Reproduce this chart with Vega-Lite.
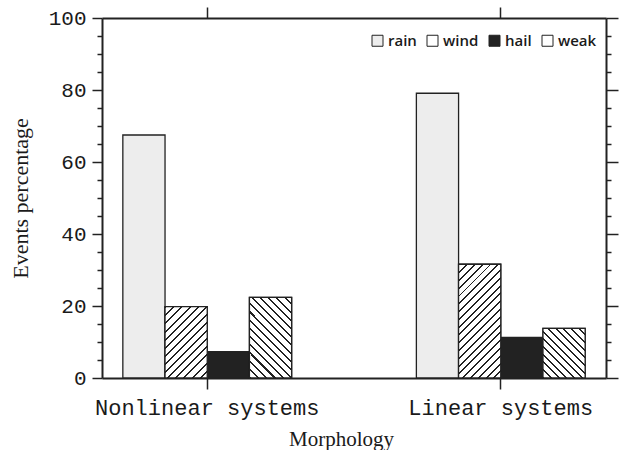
{
  "$schema": "https://vega.github.io/schema/vega-lite/v6.json",
  "autosize": {"type": "none"},
  "padding": {"left": 102, "top": 18, "right": 13, "bottom": 72},
  "width": 504,
  "height": 360,
  "config": {"view": {"stroke": null}, "axis": {"grid": false}},
  "data": {
    "values": [
      {"morph": "Nonlinear systems", "type": "rain", "value": 67.5},
      {"morph": "Nonlinear systems", "type": "wind", "value": 19.8},
      {"morph": "Nonlinear systems", "type": "hail", "value": 7.3},
      {"morph": "Nonlinear systems", "type": "weak", "value": 22.4},
      {"morph": "Linear systems", "type": "rain", "value": 79.1},
      {"morph": "Linear systems", "type": "wind", "value": 31.6},
      {"morph": "Linear systems", "type": "hail", "value": 11.3},
      {"morph": "Linear systems", "type": "weak", "value": 13.8}
    ]
  },
  "resolve": {"axis": {"x": "independent", "y": "independent"}},
  "layer": [
    {
      "mark": {"type": "bar", "stroke": "#222", "strokeWidth": 1.3},
      "encoding": {
        "x": {"field": "morph", "type": "nominal", "scale": {"domain": ["Nonlinear systems", "Linear systems"], "paddingInner": 0.425, "paddingOuter": 0.071},
          "axis": {"orient": "bottom", "labelAngle": 0, "labelLimit": 0, "tickSize": 11, "tickWidth": 1.5, "tickColor": "#222", "domainColor": "#222", "domainWidth": 2, "labelFont": "Liberation Mono", "labelFontSize": 22, "labelColor": "#1a1a1a", "labelPadding": 8, "title": "Morphology", "titleFont": "Liberation Serif", "titleFontSize": 21, "titleFontWeight": "normal", "titleColor": "#1a1a1a", "titleX": 239, "titlePadding": 10}},
        "xOffset": {"field": "type", "type": "nominal", "scale": {"domain": ["rain", "wind", "hail", "weak"], "paddingInner": 0, "paddingOuter": 0}},
        "y": {"field": "value", "type": "quantitative", "scale": {"domain": [0, 100], "nice": false},
          "axis": {"orient": "left", "values": [0,5,10,15,20,25,30,35,40,45,50,55,60,65,70,75,80,85,90,95,100], "labelExpr": "datum.value % 20 === 0 ? datum.label : ''", "labelOverlap": false, "tickSize": {"condition": {"test": "datum.value % 20 === 0", "value": 10}, "value": 5}, "tickWidth": 1.5, "tickColor": "#222", "domainColor": "#222", "domainWidth": 2, "labelFont": "Liberation Mono", "labelFontSize": 21, "labelColor": "#1a1a1a", "labelPadding": 6, "title": "Events percentage", "titleFont": "Liberation Serif", "titleFontSize": 22, "titleFontWeight": "normal", "titleColor": "#1a1a1a", "titlePadding": 16}},
        "fill": {"field": "type", "type": "nominal", "scale": {"domain": ["rain", "wind", "hail", "weak"], "range": ["#ededed", "#ffffff", "#222222", "#ffffff"]},
          "legend": {"title": null, "orient": "none", "direction": "horizontal", "legendX": 268, "legendY": 15, "padding": 0, "symbolType": "square", "symbolSize": 121, "symbolStrokeWidth": 1, "symbolStrokeColor": "#222", "labelOffset": 3, "columnPadding": 8, "labelFont": "Open Sans", "labelFontWeight": 600, "labelFontSize": 15, "labelColor": "#1a1a1a"}}
      }
    },
    {
      "transform": [{"filter": "datum.type === 'wind' && datum.morph === 'Nonlinear systems'"}],
      "mark": {"type": "bar", "stroke": "#222", "strokeWidth": 1.3,
        "fill": {"gradient": "linear", "x1": 0, "y1": 0, "x2": 0.6977, "y2": 1.1789, "stops": [
          {"offset": 0, "color": "#222"}, {"offset": 0.01786, "color": "#222"}, {"offset": 0.01786, "color": "#fff"}, {"offset": 0.07143, "color": "#fff"},
          {"offset": 0.07143, "color": "#222"}, {"offset": 0.08929, "color": "#222"}, {"offset": 0.08929, "color": "#fff"}, {"offset": 0.14286, "color": "#fff"},
          {"offset": 0.14286, "color": "#222"}, {"offset": 0.16071, "color": "#222"}, {"offset": 0.16071, "color": "#fff"}, {"offset": 0.21429, "color": "#fff"},
          {"offset": 0.21429, "color": "#222"}, {"offset": 0.23214, "color": "#222"}, {"offset": 0.23214, "color": "#fff"}, {"offset": 0.28571, "color": "#fff"},
          {"offset": 0.28571, "color": "#222"}, {"offset": 0.30357, "color": "#222"}, {"offset": 0.30357, "color": "#fff"}, {"offset": 0.35714, "color": "#fff"},
          {"offset": 0.35714, "color": "#222"}, {"offset": 0.375, "color": "#222"}, {"offset": 0.375, "color": "#fff"}, {"offset": 0.42857, "color": "#fff"},
          {"offset": 0.42857, "color": "#222"}, {"offset": 0.44643, "color": "#222"}, {"offset": 0.44643, "color": "#fff"}, {"offset": 0.5, "color": "#fff"},
          {"offset": 0.5, "color": "#222"}, {"offset": 0.51786, "color": "#222"}, {"offset": 0.51786, "color": "#fff"}, {"offset": 0.57143, "color": "#fff"},
          {"offset": 0.57143, "color": "#222"}, {"offset": 0.58929, "color": "#222"}, {"offset": 0.58929, "color": "#fff"}, {"offset": 0.64286, "color": "#fff"},
          {"offset": 0.64286, "color": "#222"}, {"offset": 0.66071, "color": "#222"}, {"offset": 0.66071, "color": "#fff"}, {"offset": 0.71429, "color": "#fff"},
          {"offset": 0.71429, "color": "#222"}, {"offset": 0.73214, "color": "#222"}, {"offset": 0.73214, "color": "#fff"}, {"offset": 0.78571, "color": "#fff"},
          {"offset": 0.78571, "color": "#222"}, {"offset": 0.80357, "color": "#222"}, {"offset": 0.80357, "color": "#fff"}, {"offset": 0.85714, "color": "#fff"},
          {"offset": 0.85714, "color": "#222"}, {"offset": 0.875, "color": "#222"}, {"offset": 0.875, "color": "#fff"}, {"offset": 0.92857, "color": "#fff"},
          {"offset": 0.92857, "color": "#222"}, {"offset": 0.94643, "color": "#222"}, {"offset": 0.94643, "color": "#fff"}, {"offset": 1, "color": "#fff"}
        ]}},
      "encoding": {
        "x": {"field": "morph", "type": "nominal", "scale": {"domain": ["Nonlinear systems", "Linear systems"], "paddingInner": 0.425, "paddingOuter": 0.071},
          "axis": {"orient": "top", "labels": false, "tickSize": 11, "tickWidth": 1.5, "tickColor": "#222", "domainColor": "#222", "domainWidth": 2, "title": null}},
        "xOffset": {"field": "type", "type": "nominal", "scale": {"domain": ["rain", "wind", "hail", "weak"], "paddingInner": 0, "paddingOuter": 0}},
        "y": {"field": "value", "type": "quantitative", "scale": {"domain": [0, 100], "nice": false},
          "axis": {"orient": "right", "values": [0,5,10,15,20,25,30,35,40,45,50,55,60,65,70,75,80,85,90,95,100], "labels": false, "tickSize": {"condition": {"test": "datum.value % 20 === 0", "value": 12}, "value": 5}, "tickWidth": 1.5, "tickColor": "#222", "domainColor": "#222", "domainWidth": 2, "title": null}}
      }
    },
    {
      "transform": [{"filter": "datum.type === 'wind' && datum.morph === 'Linear systems'"}],
      "mark": {"type": "bar", "stroke": "#222", "strokeWidth": 1.3,
        "fill": {"gradient": "linear", "x1": 0, "y1": 0, "x2": 0.4469, "y2": 1.2051, "stops": [
          {"offset": 0, "color": "#222"}, {"offset": 0.0125, "color": "#222"}, {"offset": 0.0125, "color": "#fff"}, {"offset": 0.05, "color": "#fff"},
          {"offset": 0.05, "color": "#222"}, {"offset": 0.0625, "color": "#222"}, {"offset": 0.0625, "color": "#fff"}, {"offset": 0.1, "color": "#fff"},
          {"offset": 0.1, "color": "#222"}, {"offset": 0.1125, "color": "#222"}, {"offset": 0.1125, "color": "#fff"}, {"offset": 0.15, "color": "#fff"},
          {"offset": 0.15, "color": "#222"}, {"offset": 0.1625, "color": "#222"}, {"offset": 0.1625, "color": "#fff"}, {"offset": 0.2, "color": "#fff"},
          {"offset": 0.2, "color": "#222"}, {"offset": 0.2125, "color": "#222"}, {"offset": 0.2125, "color": "#fff"}, {"offset": 0.25, "color": "#fff"},
          {"offset": 0.25, "color": "#222"}, {"offset": 0.2625, "color": "#222"}, {"offset": 0.2625, "color": "#fff"}, {"offset": 0.3, "color": "#fff"},
          {"offset": 0.3, "color": "#222"}, {"offset": 0.3125, "color": "#222"}, {"offset": 0.3125, "color": "#fff"}, {"offset": 0.35, "color": "#fff"},
          {"offset": 0.35, "color": "#222"}, {"offset": 0.3625, "color": "#222"}, {"offset": 0.3625, "color": "#fff"}, {"offset": 0.4, "color": "#fff"},
          {"offset": 0.4, "color": "#222"}, {"offset": 0.4125, "color": "#222"}, {"offset": 0.4125, "color": "#fff"}, {"offset": 0.45, "color": "#fff"},
          {"offset": 0.45, "color": "#222"}, {"offset": 0.4625, "color": "#222"}, {"offset": 0.4625, "color": "#fff"}, {"offset": 0.5, "color": "#fff"},
          {"offset": 0.5, "color": "#222"}, {"offset": 0.5125, "color": "#222"}, {"offset": 0.5125, "color": "#fff"}, {"offset": 0.55, "color": "#fff"},
          {"offset": 0.55, "color": "#222"}, {"offset": 0.5625, "color": "#222"}, {"offset": 0.5625, "color": "#fff"}, {"offset": 0.6, "color": "#fff"},
          {"offset": 0.6, "color": "#222"}, {"offset": 0.6125, "color": "#222"}, {"offset": 0.6125, "color": "#fff"}, {"offset": 0.65, "color": "#fff"},
          {"offset": 0.65, "color": "#222"}, {"offset": 0.6625, "color": "#222"}, {"offset": 0.6625, "color": "#fff"}, {"offset": 0.7, "color": "#fff"},
          {"offset": 0.7, "color": "#222"}, {"offset": 0.7125, "color": "#222"}, {"offset": 0.7125, "color": "#fff"}, {"offset": 0.75, "color": "#fff"},
          {"offset": 0.75, "color": "#222"}, {"offset": 0.7625, "color": "#222"}, {"offset": 0.7625, "color": "#fff"}, {"offset": 0.8, "color": "#fff"},
          {"offset": 0.8, "color": "#222"}, {"offset": 0.8125, "color": "#222"}, {"offset": 0.8125, "color": "#fff"}, {"offset": 0.85, "color": "#fff"},
          {"offset": 0.85, "color": "#222"}, {"offset": 0.8625, "color": "#222"}, {"offset": 0.8625, "color": "#fff"}, {"offset": 0.9, "color": "#fff"},
          {"offset": 0.9, "color": "#222"}, {"offset": 0.9125, "color": "#222"}, {"offset": 0.9125, "color": "#fff"}, {"offset": 0.95, "color": "#fff"},
          {"offset": 0.95, "color": "#222"}, {"offset": 0.9625, "color": "#222"}, {"offset": 0.9625, "color": "#fff"}, {"offset": 1, "color": "#fff"}
        ]}},
      "encoding": {
        "x": {"field": "morph", "type": "nominal", "scale": {"domain": ["Nonlinear systems", "Linear systems"], "paddingInner": 0.425, "paddingOuter": 0.071}, "axis": null},
        "xOffset": {"field": "type", "type": "nominal", "scale": {"domain": ["rain", "wind", "hail", "weak"], "paddingInner": 0, "paddingOuter": 0}},
        "y": {"field": "value", "type": "quantitative", "scale": {"domain": [0, 100], "nice": false}, "axis": null}
      }
    },
    {
      "transform": [{"filter": "datum.type === 'weak' && datum.morph === 'Nonlinear systems'"}],
      "mark": {"type": "bar", "stroke": "#222", "strokeWidth": 1.3,
        "fill": {"gradient": "linear", "x1": 0, "y1": 1, "x2": 0.6261, "y2": -0.1958, "stops": [
          {"offset": 0, "color": "#222"}, {"offset": 0.01667, "color": "#222"}, {"offset": 0.01667, "color": "#fff"}, {"offset": 0.06667, "color": "#fff"},
          {"offset": 0.06667, "color": "#222"}, {"offset": 0.08333, "color": "#222"}, {"offset": 0.08333, "color": "#fff"}, {"offset": 0.13333, "color": "#fff"},
          {"offset": 0.13333, "color": "#222"}, {"offset": 0.15, "color": "#222"}, {"offset": 0.15, "color": "#fff"}, {"offset": 0.2, "color": "#fff"},
          {"offset": 0.2, "color": "#222"}, {"offset": 0.21667, "color": "#222"}, {"offset": 0.21667, "color": "#fff"}, {"offset": 0.26667, "color": "#fff"},
          {"offset": 0.26667, "color": "#222"}, {"offset": 0.28333, "color": "#222"}, {"offset": 0.28333, "color": "#fff"}, {"offset": 0.33333, "color": "#fff"},
          {"offset": 0.33333, "color": "#222"}, {"offset": 0.35, "color": "#222"}, {"offset": 0.35, "color": "#fff"}, {"offset": 0.4, "color": "#fff"},
          {"offset": 0.4, "color": "#222"}, {"offset": 0.41667, "color": "#222"}, {"offset": 0.41667, "color": "#fff"}, {"offset": 0.46667, "color": "#fff"},
          {"offset": 0.46667, "color": "#222"}, {"offset": 0.48333, "color": "#222"}, {"offset": 0.48333, "color": "#fff"}, {"offset": 0.53333, "color": "#fff"},
          {"offset": 0.53333, "color": "#222"}, {"offset": 0.55, "color": "#222"}, {"offset": 0.55, "color": "#fff"}, {"offset": 0.6, "color": "#fff"},
          {"offset": 0.6, "color": "#222"}, {"offset": 0.61667, "color": "#222"}, {"offset": 0.61667, "color": "#fff"}, {"offset": 0.66667, "color": "#fff"},
          {"offset": 0.66667, "color": "#222"}, {"offset": 0.68333, "color": "#222"}, {"offset": 0.68333, "color": "#fff"}, {"offset": 0.73333, "color": "#fff"},
          {"offset": 0.73333, "color": "#222"}, {"offset": 0.75, "color": "#222"}, {"offset": 0.75, "color": "#fff"}, {"offset": 0.8, "color": "#fff"},
          {"offset": 0.8, "color": "#222"}, {"offset": 0.81667, "color": "#222"}, {"offset": 0.81667, "color": "#fff"}, {"offset": 0.86667, "color": "#fff"},
          {"offset": 0.86667, "color": "#222"}, {"offset": 0.88333, "color": "#222"}, {"offset": 0.88333, "color": "#fff"}, {"offset": 0.93333, "color": "#fff"},
          {"offset": 0.93333, "color": "#222"}, {"offset": 0.95, "color": "#222"}, {"offset": 0.95, "color": "#fff"}, {"offset": 1, "color": "#fff"}
        ]}},
      "encoding": {
        "x": {"field": "morph", "type": "nominal", "scale": {"domain": ["Nonlinear systems", "Linear systems"], "paddingInner": 0.425, "paddingOuter": 0.071}, "axis": null},
        "xOffset": {"field": "type", "type": "nominal", "scale": {"domain": ["rain", "wind", "hail", "weak"], "paddingInner": 0, "paddingOuter": 0}},
        "y": {"field": "value", "type": "quantitative", "scale": {"domain": [0, 100], "nice": false}, "axis": null}
      }
    },
    {
      "transform": [{"filter": "datum.type === 'weak' && datum.morph === 'Linear systems'"}],
      "mark": {"type": "bar", "stroke": "#222", "strokeWidth": 1.3,
        "fill": {"gradient": "linear", "x1": 0, "y1": 1, "x2": 0.9123, "y2": -0.0745, "stops": [
          {"offset": 0, "color": "#222"}, {"offset": 0.02083, "color": "#222"}, {"offset": 0.02083, "color": "#fff"}, {"offset": 0.08333, "color": "#fff"},
          {"offset": 0.08333, "color": "#222"}, {"offset": 0.10417, "color": "#222"}, {"offset": 0.10417, "color": "#fff"}, {"offset": 0.16667, "color": "#fff"},
          {"offset": 0.16667, "color": "#222"}, {"offset": 0.1875, "color": "#222"}, {"offset": 0.1875, "color": "#fff"}, {"offset": 0.25, "color": "#fff"},
          {"offset": 0.25, "color": "#222"}, {"offset": 0.27083, "color": "#222"}, {"offset": 0.27083, "color": "#fff"}, {"offset": 0.33333, "color": "#fff"},
          {"offset": 0.33333, "color": "#222"}, {"offset": 0.35417, "color": "#222"}, {"offset": 0.35417, "color": "#fff"}, {"offset": 0.41667, "color": "#fff"},
          {"offset": 0.41667, "color": "#222"}, {"offset": 0.4375, "color": "#222"}, {"offset": 0.4375, "color": "#fff"}, {"offset": 0.5, "color": "#fff"},
          {"offset": 0.5, "color": "#222"}, {"offset": 0.52083, "color": "#222"}, {"offset": 0.52083, "color": "#fff"}, {"offset": 0.58333, "color": "#fff"},
          {"offset": 0.58333, "color": "#222"}, {"offset": 0.60417, "color": "#222"}, {"offset": 0.60417, "color": "#fff"}, {"offset": 0.66667, "color": "#fff"},
          {"offset": 0.66667, "color": "#222"}, {"offset": 0.6875, "color": "#222"}, {"offset": 0.6875, "color": "#fff"}, {"offset": 0.75, "color": "#fff"},
          {"offset": 0.75, "color": "#222"}, {"offset": 0.77083, "color": "#222"}, {"offset": 0.77083, "color": "#fff"}, {"offset": 0.83333, "color": "#fff"},
          {"offset": 0.83333, "color": "#222"}, {"offset": 0.85417, "color": "#222"}, {"offset": 0.85417, "color": "#fff"}, {"offset": 0.91667, "color": "#fff"},
          {"offset": 0.91667, "color": "#222"}, {"offset": 0.9375, "color": "#222"}, {"offset": 0.9375, "color": "#fff"}, {"offset": 1, "color": "#fff"}
        ]}},
      "encoding": {
        "x": {"field": "morph", "type": "nominal", "scale": {"domain": ["Nonlinear systems", "Linear systems"], "paddingInner": 0.425, "paddingOuter": 0.071}, "axis": null},
        "xOffset": {"field": "type", "type": "nominal", "scale": {"domain": ["rain", "wind", "hail", "weak"], "paddingInner": 0, "paddingOuter": 0}},
        "y": {"field": "value", "type": "quantitative", "scale": {"domain": [0, 100], "nice": false}, "axis": null}
      }
    }
  ]
}
